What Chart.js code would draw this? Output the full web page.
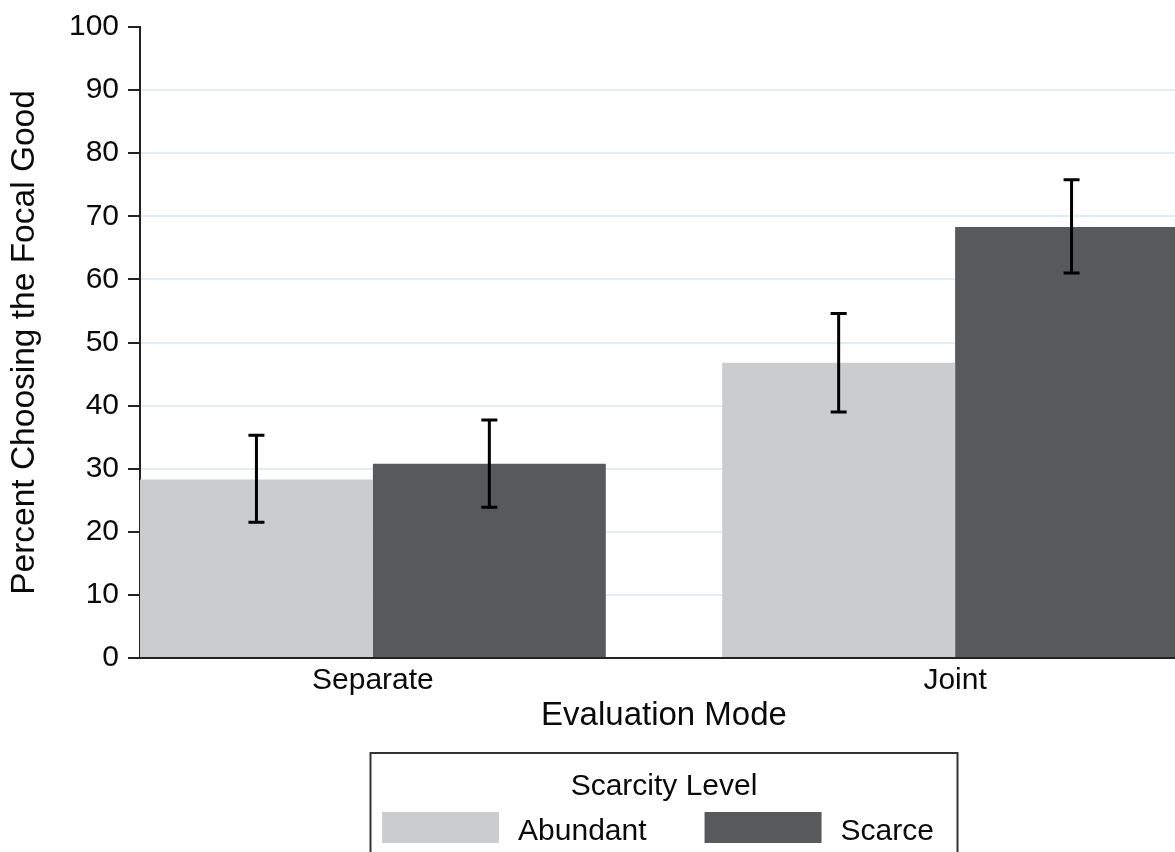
<!DOCTYPE html>
<html>
<head>
<meta charset="utf-8">
<script src="https://cdn.jsdelivr.net/npm/chart.js@4.4.0/dist/chart.umd.min.js"></script>
<style>
  html, body { margin: 0; padding: 0; background: #fff; overflow: hidden; }
  #wrap { position: relative; width: 1190px; height: 852px; }
</style>
</head>
<body>
<div id="wrap"><canvas id="c" width="1190" height="852"></canvas></div>
<script>
// Evaluation mode groups and scarcity conditions
const categories = ['Separate', 'Joint'];
const seriesNames = ['Abundant', 'Scarce'];

// Percent choosing the focal good
const abundantPct = [28.3, 46.8];
const scarcePct = [30.8, 68.3];

// Confidence interval bounds
const abundantLow = [21.5, 39.0];
const abundantHigh = [35.3, 54.6];
const scarceLow = [23.9, 61.0];
const scarceHigh = [37.7, 75.8];

// Y axis ticks
const yTicks = [0, 10, 20, 30, 40, 50, 60, 70, 80, 90, 100];

const FONT = "'Liberation Sans', Arial, Helvetica, sans-serif";
const TEXT = '#0a0a0a';
const AXIS = '#222';
const COLORS = ['#cbcccd', '#58595b'];

// Whiskers for each bar, placed through the y scale
const errorBars = {
  id: 'errorBars',
  afterDatasetsDraw(chart) {
    const ctx = chart.ctx;
    const y = chart.scales.y;
    chart.data.datasets.forEach((ds, i) => {
      const meta = chart.getDatasetMeta(i);
      meta.data.forEach((bar, j) => {
        const lo = y.getPixelForValue(ds.errLow[j]);
        const hi = y.getPixelForValue(ds.errHigh[j]);
        const cap = 8;
        ctx.save();
        ctx.strokeStyle = '#000';
        ctx.lineWidth = 3;
        ctx.lineCap = 'butt';
        ctx.beginPath();
        ctx.moveTo(bar.x, lo); ctx.lineTo(bar.x, hi);
        ctx.moveTo(bar.x - cap, lo); ctx.lineTo(bar.x + cap, lo);
        ctx.moveTo(bar.x - cap, hi); ctx.lineTo(bar.x + cap, hi);
        ctx.stroke();
        ctx.restore();
      });
    });
  }
};

// Boxed legend with a title, centred under the plot region
const boxedLegend = {
  id: 'boxedLegend',
  afterDraw(chart) {
    const ctx = chart.ctx;
    const area = chart.chartArea;
    const cx = (area.left + area.right) / 2;
    const boxW = 587;
    const boxTop = 753;
    ctx.save();
    ctx.strokeStyle = '#333';
    ctx.lineWidth = 2;
    ctx.strokeRect(cx - boxW / 2, boxTop, boxW, chart.height - boxTop + 10);

    ctx.fillStyle = TEXT;
    ctx.font = '30px ' + FONT;
    ctx.textAlign = 'center';
    ctx.textBaseline = 'alphabetic';
    ctx.fillText('Scarcity Level', cx, 795);

    const swW = 117, swH = 31, gapText = 19, gapItem = 58;
    const items = chart.data.datasets.map(ds => ({
      label: ds.label, color: ds.backgroundColor,
      w: swW + gapText + ctx.measureText(ds.label).width
    }));
    const total = items.reduce((s, it) => s + it.w, 0) + gapItem * (items.length - 1);
    let x = cx - total / 2 - 6;
    ctx.textAlign = 'left';
    items.forEach(it => {
      ctx.fillStyle = it.color;
      ctx.fillRect(x, 812, swW, swH);
      ctx.fillStyle = TEXT;
      ctx.fillText(it.label, x + swW + gapText, 840);
      x += it.w + gapItem;
    });
    ctx.restore();
  }
};

const toPoints = arr => arr.map((v, i) => ({ x: i, y: v }));

new Chart(document.getElementById('c'), {
  type: 'bar',
  data: {
    datasets: [
      { label: seriesNames[0], data: toPoints(abundantPct), backgroundColor: COLORS[0],
        errLow: abundantLow, errHigh: abundantHigh, borderWidth: 0 },
      { label: seriesNames[1], data: toPoints(scarcePct), backgroundColor: COLORS[1],
        errLow: scarceLow, errHigh: scarceHigh, borderWidth: 0 }
    ]
  },
  options: {
    responsive: false,
    animation: false,
    devicePixelRatio: 1,
    layout: { padding: { top: 24, right: 2, left: 0, bottom: 0 } },
    datasets: { bar: { categoryPercentage: 0.8, barPercentage: 1.0 } },
    plugins: {
      legend: { display: false },
      tooltip: { enabled: false }
    },
    scales: {
      x: {
        type: 'linear',
        min: -0.4,
        max: 1.4,
        offset: false,
        afterBuildTicks: s => { s.ticks = categories.map((_, i) => ({ value: i })); },
        afterFit: s => { s.height = 194; },
        ticks: {
          callback: v => categories[v],
          font: { family: FONT, size: 30 },
          color: TEXT,
          padding: 5,
          autoSkip: false,
          maxRotation: 0,
          minRotation: 0
        },
        grid: { display: true, drawOnChartArea: false, drawTicks: false, offset: false },
        border: { display: true, color: AXIS, width: 2 },
        title: {
          display: true,
          text: 'Evaluation Mode',
          font: { family: FONT, size: 33 },
          color: TEXT,
          padding: { top: 0, bottom: 116 }
        }
      },
      y: {
        min: 0,
        max: 100,
        afterBuildTicks: s => { s.ticks = yTicks.map(v => ({ value: v })); },
        afterFit: s => { s.width = 140; },
        ticks: {
          font: { family: FONT, size: 30 },
          color: TEXT,
          padding: 9
        },
        grid: {
          color: c => (c.tick && (c.tick.value === 0 || c.tick.value === 100)) ? 'rgba(0,0,0,0)' : '#e4edf1',
          lineWidth: 2,
          tickColor: AXIS,
          tickLength: 12,
          tickWidth: 2
        },
        border: { display: true, color: AXIS, width: 2 },
        title: {
          display: true,
          text: 'Percent Choosing the Focal Good',
          font: { family: FONT, size: 33.5 },
          color: TEXT,
          padding: { top: 5, bottom: 0 }
        }
      }
    }
  },
  plugins: [errorBars, boxedLegend]
});
</script>
</body>
</html>
